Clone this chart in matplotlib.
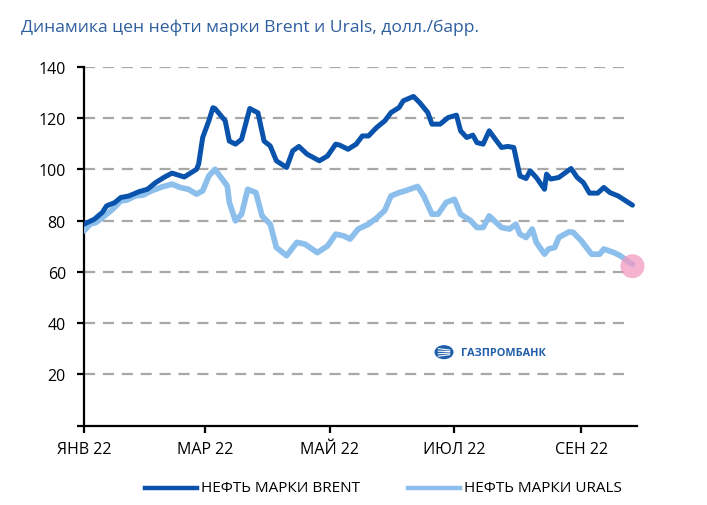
import matplotlib
matplotlib.use("Agg")
import matplotlib.pyplot as plt
from matplotlib.patches import Circle
import pandas as pd

# Brent, долл./барр.
brent_dates = ["2022-01-01", "2022-01-06", "2022-01-10", "2022-01-12", "2022-01-16", "2022-01-19",
               "2022-01-23", "2022-01-28", "2022-02-01", "2022-02-05", "2022-02-09", "2022-02-13",
               "2022-02-19", "2022-02-25", "2022-02-26", "2022-02-28", "2022-03-03", "2022-03-05",
               "2022-03-06", "2022-03-11", "2022-03-13", "2022-03-16", "2022-03-19", "2022-03-23",
               "2022-03-27", "2022-03-30", "2022-04-02", "2022-04-05", "2022-04-10", "2022-04-13",
               "2022-04-16", "2022-04-20", "2022-04-26", "2022-04-30", "2022-05-04", "2022-05-06",
               "2022-05-10", "2022-05-14", "2022-05-17", "2022-05-20", "2022-05-24", "2022-05-28",
               "2022-05-31", "2022-06-04", "2022-06-06", "2022-06-11", "2022-06-14", "2022-06-18",
               "2022-06-20", "2022-06-24", "2022-06-28", "2022-07-02", "2022-07-04", "2022-07-07",
               "2022-07-10", "2022-07-12", "2022-07-15", "2022-07-18", "2022-07-21", "2022-07-24",
               "2022-07-27", "2022-07-30", "2022-08-02", "2022-08-05", "2022-08-07", "2022-08-10",
               "2022-08-14", "2022-08-15", "2022-08-17", "2022-08-21", "2022-08-27", "2022-08-30",
               "2022-09-02", "2022-09-05", "2022-09-09", "2022-09-12", "2022-09-15", "2022-09-19",
               "2022-09-26"]
brent = [78.6, 80.5, 83.2, 85.7, 87.0, 89.0,
         89.6, 91.3, 92.2, 94.8, 96.8, 98.5,
         97.0, 100.0, 102.0, 112.4, 118.9, 124.0,
         123.7, 118.9, 111.0, 109.8, 111.7, 123.7,
         122.0, 111.0, 109.1, 103.3, 100.7, 107.2,
         108.9, 105.9, 103.3, 105.2, 109.8, 109.4,
         107.8, 109.8, 113.0, 113.0, 116.3, 118.9,
         122.1, 124.1, 126.7, 128.4, 126.0, 122.1,
         117.6, 117.6, 120.2, 121.1, 115.0, 112.4,
         113.3, 110.4, 109.8, 115.0, 111.7, 108.5,
         108.9, 108.5, 97.4, 96.4, 99.4, 96.8,
         92.2, 98.1, 96.2, 96.8, 100.3, 96.8,
         94.8, 90.7, 90.7, 92.9, 90.9, 89.6,
         86.0]

# Urals, долл./барр.
urals_dates = ["2022-01-01", "2022-01-04", "2022-01-07", "2022-01-11", "2022-01-15", "2022-01-19",
               "2022-01-22", "2022-01-26", "2022-01-30", "2022-02-03", "2022-02-08", "2022-02-13",
               "2022-02-17", "2022-02-21", "2022-02-25", "2022-02-28", "2022-03-03", "2022-03-06",
               "2022-03-12", "2022-03-13", "2022-03-16", "2022-03-19", "2022-03-22", "2022-03-26",
               "2022-03-29", "2022-04-02", "2022-04-05", "2022-04-10", "2022-04-15", "2022-04-19",
               "2022-04-25", "2022-04-30", "2022-05-04", "2022-05-08", "2022-05-11", "2022-05-15",
               "2022-05-20", "2022-05-24", "2022-05-28", "2022-05-31", "2022-06-04", "2022-06-07",
               "2022-06-13", "2022-06-16", "2022-06-20", "2022-06-23", "2022-06-27", "2022-07-01",
               "2022-07-04", "2022-07-09", "2022-07-12", "2022-07-15", "2022-07-18", "2022-07-24",
               "2022-07-28", "2022-07-31", "2022-08-02", "2022-08-05", "2022-08-08", "2022-08-10",
               "2022-08-14", "2022-08-16", "2022-08-19", "2022-08-21", "2022-08-26", "2022-08-28",
               "2022-09-01", "2022-09-06", "2022-09-10", "2022-09-12", "2022-09-17", "2022-09-20",
               "2022-09-25", "2022-09-26"]
urals = [76.0, 78.6, 79.3, 81.8, 84.4, 87.7,
         88.0, 89.6, 90.0, 91.6, 93.1, 94.2,
         92.9, 92.2, 90.3, 91.6, 97.4, 100.0,
         93.5, 87.1, 79.9, 82.5, 92.2, 90.9,
         81.8, 78.6, 69.5, 66.3, 71.5, 70.8,
         67.5, 70.1, 74.7, 74.0, 72.8, 76.7,
         78.6, 81.0, 84.0, 89.6, 90.9, 91.6,
         93.3, 89.6, 82.5, 82.5, 87.1, 88.3,
         82.5, 79.9, 77.3, 77.3, 81.8, 77.3,
         76.7, 78.6, 74.7, 73.4, 76.7, 71.5,
         66.9, 68.9, 69.5, 73.4, 75.6, 75.4,
         72.1, 66.9, 66.9, 68.9, 67.5, 66.3,
         63.4, 63.0]

x_ticks = ["2022-01-01", "2022-03-01", "2022-05-01", "2022-07-01", "2022-09-01"]
x_labels = ["ЯНВ 22", "МАР 22", "МАЙ 22", "ИЮЛ 22", "СЕН 22"]
y_ticks = [0, 20, 40, 60, 80, 100, 120, 140]

plt.rcParams['font.family'] = ['Open Sans', 'DejaVu Sans']

fig = plt.figure(figsize=(7.07, 5.06), dpi=100)
ax = fig.add_axes([0.1188, 0.1567, 0.7816, 0.7095])

bd = pd.to_datetime(brent_dates)
ud = pd.to_datetime(urals_dates)

ax.plot(ud, urals, color="#8cbfec", lw=4.1, solid_joinstyle="round", solid_capstyle="round", zorder=3)
ax.plot(bd, brent, color="#0953ac", lw=3.6, solid_joinstyle="round", solid_capstyle="round", zorder=4)
# highlight at the end of Urals
ax.scatter([ud[-1]], [urals[-1] - 0.8], s=300, color="#f49ac1", alpha=0.75, edgecolors="none",
           zorder=5, clip_on=False)

ax.set_ylim(0, 140)
ax.set_xlim(pd.Timestamp("2022-01-01"), pd.Timestamp("2022-09-28"))
ax.set_yticks(y_ticks)
ax.set_yticklabels([str(v) if v > 0 else "" for v in y_ticks])
ax.set_xticks(pd.to_datetime(x_ticks))
ax.set_xticklabels(x_labels)

for v in y_ticks[1:]:
    ax.axhline(v, xmax=0.985, color="#a8a8a8", lw=1.6, ls=(0, (5, 3.5)), zorder=1)

for s in ["top", "right"]:
    ax.spines[s].set_visible(False)
for s in ["left", "bottom"]:
    ax.spines[s].set_linewidth(1.6)
    ax.spines[s].set_color("black")
ax.tick_params(axis="both", direction="out", length=5, width=1.6, labelsize=11.5, colors="black", pad=6)
ax.tick_params(axis="y", pad=8)

fig.text(0.03, 0.946, "Динамика цен нефти марки Brent и Urals, долл./барр.",
         color="#2e5f9e", fontsize=12.6, va="center", ha="left")

# logo
logo = Circle((0.628, 0.302), 0.0125, transform=fig.transFigure, color="#1f5faa", zorder=6)
fig.patches.append(logo)
for dy in (-0.008, -0.003, 0.002, 0.007):
    fig.lines.append(plt.Line2D([0.620, 0.636], [0.302 + dy, 0.302 + dy * 0.6],
                                transform=fig.transFigure, color="white", lw=0.8, zorder=7))
fig.text(0.652, 0.302, "ГАЗПРОМБАНК", color="#1f5faa", fontsize=7.8, fontweight="bold",
         va="center", ha="left")

# legend
fig.lines.append(plt.Line2D([0.205, 0.278], [0.034, 0.034], transform=fig.transFigure,
                            color="#0953ac", lw=3.2))
fig.text(0.284, 0.034, "НЕФТЬ МАРКИ BRENT", fontsize=11, va="center", ha="left")
fig.lines.append(plt.Line2D([0.577, 0.650], [0.034, 0.034], transform=fig.transFigure,
                            color="#8cbfec", lw=3.2))
fig.text(0.657, 0.034, "НЕФТЬ МАРКИ URALS", fontsize=11, va="center", ha="left")

fig.savefig("out.png", dpi=100)
